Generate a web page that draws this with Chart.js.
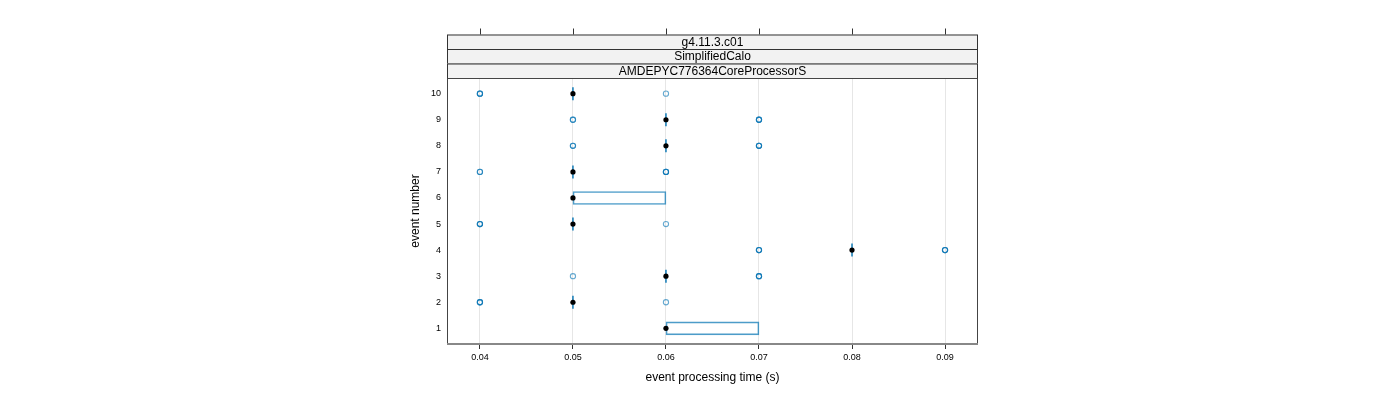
<!DOCTYPE html>
<html>
<head>
<meta charset="utf-8">
<script src="https://cdn.jsdelivr.net/npm/chart.js@4/dist/chart.umd.min.js"></script>
<style>
  html, body { margin: 0; padding: 0; background: #fff; }
  #wrap { width: 1400px; height: 400px; }
</style>
</head>
<body>
<div id="wrap"><canvas id="bwChart" width="1400" height="400"></canvas></div>
<script>
// data
const stripLabels = ['g4.11.3.c01', 'SimplifiedCalo', 'AMDEPYC776364CoreProcessorS'];
const events = [1, 2, 3, 4, 5, 6, 7, 8, 9, 10];
const medians = [0.06, 0.05, 0.06, 0.08, 0.05, 0.05, 0.05, 0.06, 0.06, 0.05];
const boxLow = [0.06, 0.05, 0.06, 0.08, 0.05, 0.05, 0.05, 0.06, 0.06, 0.05];
const boxHigh = [0.07, 0.05, 0.06, 0.08, 0.05, 0.06, 0.05, 0.06, 0.06, 0.05];
const outliers = [
    [],
    [0.04, 0.04, 0.04, 0.06],
    [0.05, 0.07, 0.07, 0.07],
    [0.07, 0.07, 0.07, 0.09, 0.09, 0.09],
    [0.04, 0.04, 0.04, 0.06],
    [],
    [0.04, 0.04, 0.06, 0.06, 0.06],
    [0.05, 0.05, 0.07, 0.07, 0.07],
    [0.05, 0.05, 0.07, 0.07, 0.07],
    [0.04, 0.04, 0.04, 0.06]
];
const xTicks = [0.04, 0.05, 0.06, 0.07, 0.08, 0.09];

const blue = '#0072b2';
const font = "'Liberation Sans', Arial, sans-serif";

const boxes = [];
const collapsed = [];
events.forEach((ev, i) => {
    if (boxHigh[i] > boxLow[i]) {
        boxes.push({ y: ev, x: [boxLow[i], boxHigh[i]] });
    } else {
        collapsed.push({ x: boxLow[i], y: ev });
    }
});
const outlierPoints = [];
events.forEach((ev, i) => {
    outliers[i].forEach(v => outlierPoints.push({ x: v, y: ev }));
});
const medianPoints = events.map((ev, i) => ({ x: medians[i], y: ev }));

// strips, panel border and top ticks
const latticePlugin = {
    id: 'lattice',
    afterDraw(chart) {
        const ctx = chart.ctx;
        const a = chart.chartArea;
        const xs = chart.scales.x;
        const stripH = 14.5;
        const top = a.top - stripH * stripLabels.length;
        ctx.save();
        ctx.lineWidth = 1;
        ctx.strokeStyle = '#333';
        ctx.font = '12px ' + font;
        ctx.textAlign = 'center';
        ctx.textBaseline = 'middle';
        stripLabels.forEach((lab, k) => {
            const y0 = top + k * stripH;
            ctx.fillStyle = '#f2f2f2';
            ctx.fillRect(a.left, y0, a.right - a.left, stripH);
            ctx.strokeRect(a.left + 0.5, y0 + 0.5, a.right - a.left - 1, stripH);
            ctx.fillStyle = '#000';
            ctx.fillText(lab, (a.left + a.right) / 2, y0 + stripH / 2 + 0.5);
        });
        // top ticks
        xTicks.forEach(v => {
            const px = Math.round(xs.getPixelForValue(v)) + 0.5;
            ctx.beginPath();
            ctx.moveTo(px, top);
            ctx.lineTo(px, top - 6);
            ctx.stroke();
        });
        // panel border: dark left/top/right, grey bottom
        ctx.strokeStyle = '#444';
        ctx.beginPath();
        ctx.moveTo(a.left + 0.5, a.bottom);
        ctx.lineTo(a.left + 0.5, a.top + 0.5);
        ctx.lineTo(a.right - 0.5, a.top + 0.5);
        ctx.lineTo(a.right - 0.5, a.bottom);
        ctx.stroke();
        ctx.strokeStyle = '#888';
        ctx.lineWidth = 2;
        ctx.beginPath();
        ctx.moveTo(a.left, a.bottom);
        ctx.lineTo(a.right, a.bottom);
        ctx.stroke();
        ctx.restore();
    }
};

new Chart(document.getElementById('bwChart').getContext('2d'), {
    type: 'scatter',
    data: {
        datasets: [
            {
                type: 'bar',
                indexAxis: 'y',
                data: boxes,
                backgroundColor: 'rgba(0,0,0,0)',
                borderColor: 'rgba(0,114,178,0.7)',
                borderWidth: 1,
                borderSkipped: false,
                barThickness: 13,
                order: 4
            },
            {
                data: outlierPoints,
                pointStyle: 'circle',
                pointRadius: 2.6,
                pointBackgroundColor: 'rgba(255,255,255,0)',
                pointBorderColor: 'rgba(0,114,178,0.6)',
                pointBorderWidth: 1.1,
                order: 3
            },
            {
                data: collapsed,
                pointStyle: 'line',
                rotation: 90,
                pointRadius: 6.5,
                pointBorderColor: blue,
                pointBorderWidth: 1.4,
                order: 2
            },
            {
                data: medianPoints,
                pointStyle: 'circle',
                pointRadius: 2.6,
                pointBackgroundColor: '#000',
                pointBorderColor: '#000',
                pointBorderWidth: 0,
                order: 1
            }
        ]
    },
    options: {
        responsive: false,
        animation: false,
        layout: { padding: { left: 400, right: 422, top: 78, bottom: 6 } },
        plugins: {
            legend: { display: false },
            tooltip: { enabled: false }
        },
        scales: {
            x: {
                type: 'linear',
                min: 0.03646,
                max: 0.093545,
                offset: false,
                afterBuildTicks: axis => { axis.ticks = xTicks.map(v => ({ value: v })); },
                afterFit: axis => { axis.height = 50; },
                grid: { color: '#e6e6e6', tickColor: '#333', tickLength: 5, drawTicks: true, offset: false },
                border: { display: false },
                ticks: {
                    padding: 3,
                    maxRotation: 0,
                    color: '#000',
                    font: { family: font, size: 9 },
                    callback: v => v.toFixed(2)
                },
                title: {
                    display: true,
                    text: 'event processing time (s)',
                    color: '#000',
                    font: { family: font, size: 12 },
                    padding: { top: 0, bottom: 9 }
                }
            },
            y: {
                type: 'linear',
                min: 0.4,
                max: 10.6,
                offset: false,
                afterBuildTicks: axis => { axis.ticks = events.map(v => ({ value: v })); },
                afterFit: axis => { axis.width = 47; },
                grid: { display: false, drawTicks: false, offset: false },
                border: { display: false },
                ticks: {
                    padding: 6,
                    color: '#000',
                    font: { family: font, size: 9 }
                },
                title: {
                    display: true,
                    text: 'event number',
                    color: '#000',
                    font: { family: font, size: 12 },
                    padding: { top: 8, bottom: 0 }
                }
            }
        }
    },
    plugins: [latticePlugin]
});
</script>
</body>
</html>
